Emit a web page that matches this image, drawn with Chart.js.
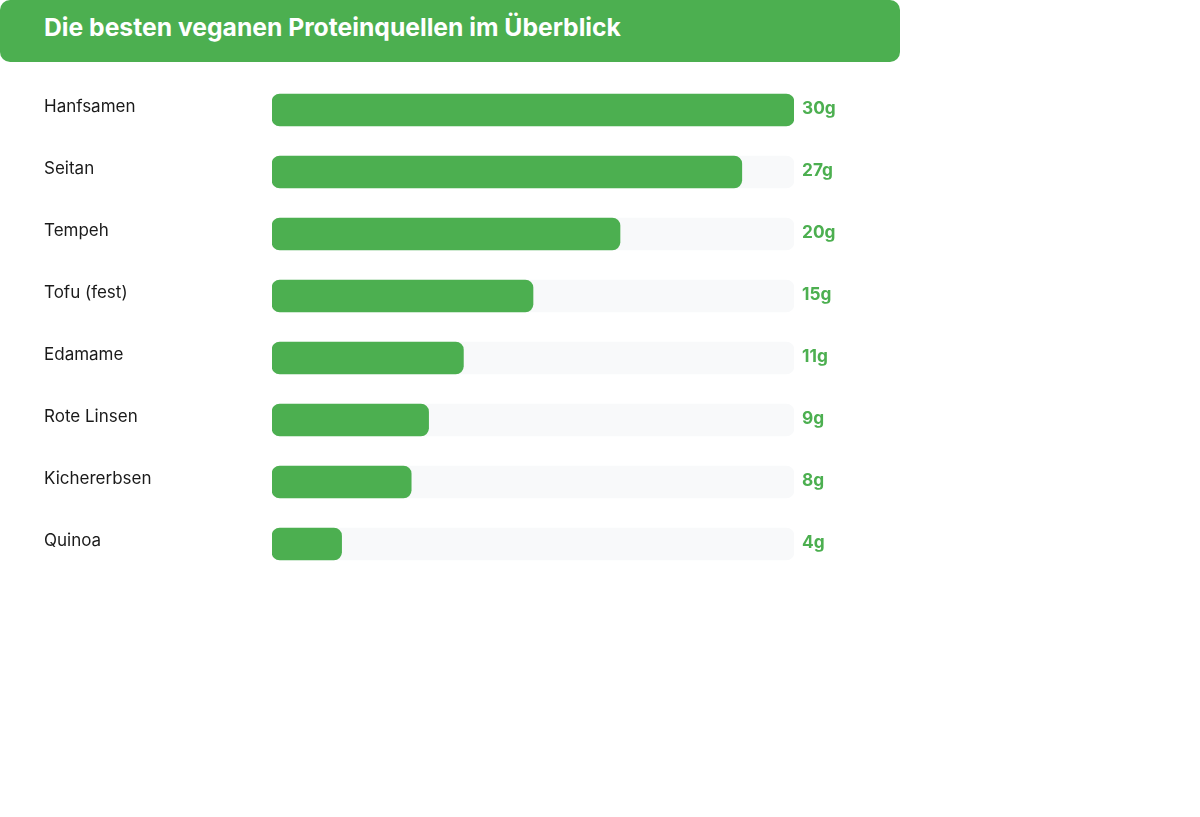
<!DOCTYPE html>
<html lang="de">
<head>
<meta charset="utf-8">
<script src="https://cdn.jsdelivr.net/npm/chart.js@4.4.1/dist/chart.umd.min.js"></script>
<style>
  html, body { margin: 0; padding: 0; background: #ffffff; }
  #wrap { position: relative; width: 1200px; height: 817px; }
  #title {
    position: absolute; left: 0; top: 0; width: 900px; height: 62px;
    background: #4CAF50; border-radius: 10px; box-sizing: border-box;
    padding-left: 44px; line-height: 55px; color: #ffffff;
    font-family: Inter, "Noto Sans", sans-serif; font-weight: 700; font-size: 24.7px;
    z-index: 2;
  }
  #c { position: absolute; left: 0; top: 0; }
</style>
</head>
<body>
<div id="wrap">
  <div id="title">Die besten veganen Proteinquellen im Überblick</div>
  <canvas id="c" width="1200" height="817"></canvas>
</div>
<script>
const categories = ["Hanfsamen", "Seitan", "Tempeh", "Tofu (fest)", "Edamame", "Rote Linsen", "Kichererbsen", "Quinoa"];
const proteinValues = [30, 27, 20, 15, 11, 9, 8, 4];
const valueLabels = ["30g", "27g", "20g", "15g", "11g", "9g", "8g", "4g"];
const trackMax = 30;

const GREEN = "#4CAF50";
const TRACK = "#f8f9fa";

const labelPlugin = {
  id: "rowLabels",
  afterDatasetsDraw(chart) {
    const ctx = chart.ctx;
    const y = chart.scales.y;
    const x = chart.scales.x;
    ctx.save();
    categories.forEach((cat, i) => {
      const cy = y.getPixelForValue(i);
      ctx.textBaseline = "middle";
      ctx.textAlign = "left";
      ctx.fillStyle = "#1a1a1a";
      ctx.font = "400 17px Inter, 'Noto Sans', sans-serif";
      ctx.fillText(cat, 44, cy - 3);
      ctx.fillStyle = GREEN;
      ctx.font = "700 17.3px Inter, 'Noto Sans', sans-serif";
      ctx.fillText(valueLabels[i], x.getPixelForValue(trackMax) + 8, cy - 1);
    });
    ctx.restore();
  }
};

new Chart(document.getElementById("c"), {
  type: "bar",
  data: {
    labels: categories,
    datasets: [
      {
        label: "Protein",
        data: proteinValues,
        backgroundColor: GREEN,
        borderRadius: 8,
        borderSkipped: false,
        barThickness: 32,
        grouped: false,
        order: 1
      },
      {
        label: "Track",
        data: categories.map(() => trackMax),
        backgroundColor: TRACK,
        borderRadius: 8,
        borderSkipped: false,
        barThickness: 32,
        grouped: false,
        order: 2
      }
    ]
  },
  options: {
    indexAxis: "y",
    responsive: false,
    animation: false,
    layout: { padding: { left: 272, right: 406, top: 79, bottom: 242 } },
    plugins: { legend: { display: false }, tooltip: { enabled: false } },
    scales: {
      x: { display: false, min: 0, max: trackMax },
      y: { display: false }
    }
  },
  plugins: [labelPlugin]
});
</script>
</body>
</html>
